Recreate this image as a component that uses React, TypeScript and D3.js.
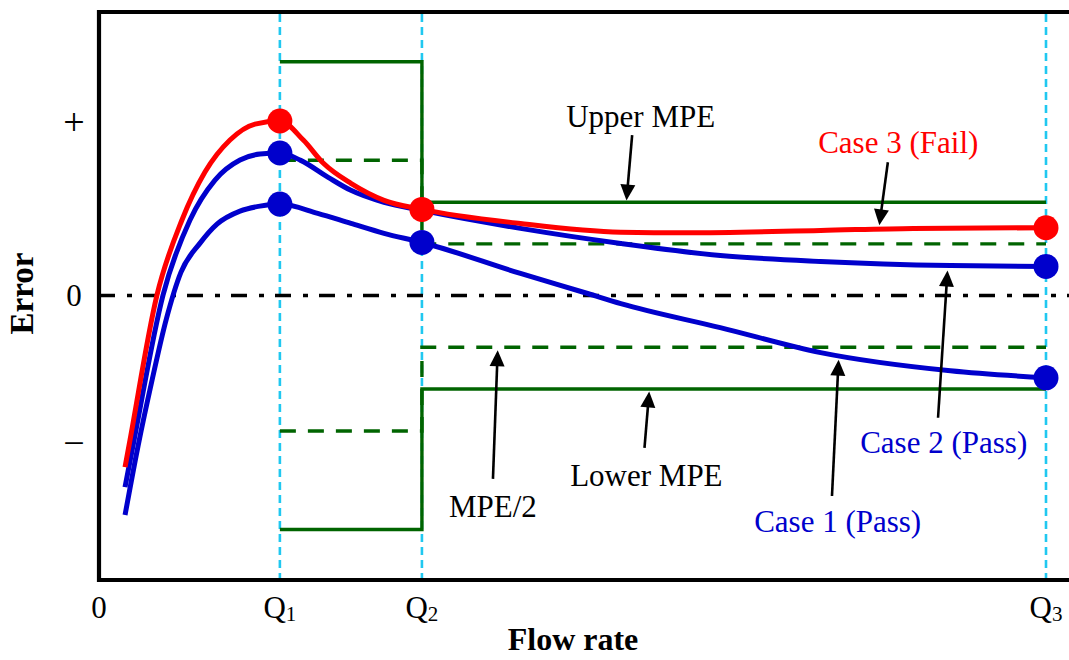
import React from 'react';
import * as d3 from 'd3';

const W = 1069;
const H = 660;

// flow-rate marks (Q3 = 100)
const Q1 = 19.1;
const Q2 = 34.1;
const Q3 = 100;

const xTicks = [
  { base: '0', sub: '', q: 0 },
  { base: 'Q', sub: '1', q: Q1 },
  { base: 'Q', sub: '2', q: Q2 },
  { base: 'Q', sub: '3', q: Q3 },
];
const yTicks = [
  { label: '+', v: 10 },
  { label: '0', v: 0 },
  { label: '\u2212', v: -8.7 },
];

// MPE limits: [Q1..Q2, Q2..Q3]
const mpe = [13.65, 5.45];
const halfMpe = [7.9, 3.02];

// error curves [flow, error]
const case1: [number, number][] = [
  [2.75, -12.81], [4.12, -8.79], [5.6, -4.94], [7.08, -1.43], [8.66, 1.37], [10.67, 3.06],
  [12.46, 4.17], [14.89, 4.93], [17.0, 5.22], [19.1, 5.34], [23.1, 4.8], [26.6, 4.21],
  [30.1, 3.63], [34.1, 3.1], [44.5, 1.29], [51.6, 0.12], [55.1, -0.47], [65.6, -1.87],
  [76.2, -3.33], [89.9, -4.39], [100, -4.8],
];
const case2: [number, number][] = [
  [2.75, -11.18], [3.7, -8.44], [6.76, 0.03], [9.61, 4.41], [12.25, 6.74], [14.89, 7.91],
  [17.0, 8.26], [19.1, 8.32], [21.3, 7.89], [24.2, 6.9], [26.6, 6.14], [30.1, 5.44],
  [34.1, 4.97], [44.5, 3.92], [55.1, 3.04], [65.6, 2.34], [76.2, 1.99], [89.9, 1.75],
  [100, 1.7],
];
const case3: [number, number][] = [
  [2.75, -10.01], [3.27, -8.44], [6.12, 0.03], [8.76, 4.41], [11.19, 7.21], [13.83, 9.08],
  [16.47, 10.01], [19.1, 10.19], [21.6, 9.06], [23.7, 7.72], [26.6, 6.55], [30.1, 5.56],
  [34.1, 5.03], [44.5, 4.21], [55.1, 3.7], [62.1, 3.66], [76.2, 3.8], [86.0, 3.92],
  [100, 3.96],
];

const case1Dots = [Q1, Q2, Q3];
const case2Dots = [Q1, Q3];
const case3Dots = [Q1, Q2, Q3];

const labels = [
  { text: 'Upper MPE', q: 57.2, v: 9.84, color: '#000' },
  { text: 'Case 3 (Fail)', q: 84.4, v: 8.32, color: '#ff0000' },
  { text: 'Case 2 (Pass)', q: 89.2, v: -9.19, color: '#0000cc' },
  { text: 'Case 1 (Pass)', q: 78.0, v: -13.8, color: '#0000cc' },
  { text: 'Lower MPE', q: 57.8, v: -11.1, color: '#000' },
  { text: 'MPE/2', q: 41.6, v: -12.9, color: '#000' },
];

const arrows = [
  { from: [56.3, 9.36], to: [55.7, 5.55] },
  { from: [83.3, 7.78], to: [82.4, 4.1] },
  { from: [88.6, -7.13], to: [89.6, 1.46] },
  { from: [77.4, -11.7], to: [78.1, -3.74] },
  { from: [57.6, -8.89], to: [58.1, -5.6] },
  { from: [41.6, -10.7], to: [42.1, -3.19] },
];

const FONT = '"Liberation Serif", "Times New Roman", serif';
const GREEN = '#006400';
const CYAN = '#20c8f0';
const BLUE = '#0000cc';
const RED = '#ff0000';

export default function App() {
  const left = 99, top = 12, bottom = 580;
  const x = d3.scaleLinear().domain([0, 100]).range([left, 1046]);
  const y = d3.scaleLinear().domain([-16.6, 16.55]).range([bottom, top]);

  const curve = d3.line<[number, number]>()
    .x(d => x(d[0]))
    .y(d => y(d[1]))
    .curve(d3.curveMonotoneX);

  const valueAt = (data: [number, number][], q: number) => data.find(d => d[0] === q)![1];

  const stepPath = (lv: number[], sign: number) => {
    const p = d3.path();
    p.moveTo(x(Q1), y(sign * lv[0]));
    p.lineTo(x(Q2), y(sign * lv[0]));
    p.lineTo(x(Q2), y(sign * lv[1]));
    p.lineTo(x(Q3), y(sign * lv[1]));
    return p.toString();
  };

  const arrowEls = arrows.map((a, i) => {
    const x0 = x(a.from[0]), y0 = y(a.from[1]);
    const x1 = x(a.to[0]), y1 = y(a.to[1]);
    const len = Math.hypot(x1 - x0, y1 - y0);
    const ux = (x1 - x0) / len, uy = (y1 - y0) / len;
    const hl = 16, hw = 7.5;
    const bx = x1 - ux * hl, by = y1 - uy * hl;
    const pts = [
      [x1, y1],
      [bx - uy * hw, by + ux * hw],
      [bx + uy * hw, by - ux * hw],
    ].map(p => p.join(',')).join(' ');
    return (
      <g key={i}>
        <line x1={x0} y1={y0} x2={bx + ux * 2} y2={by + uy * 2} stroke="#000" strokeWidth={2.6} />
        <polygon points={pts} fill="#000" />
      </g>
    );
  });

  return (
    <svg width={W} height={H} style={{ position: 'absolute', left: 0, top: 0, background: '#fff' }}
      fontFamily={FONT}>
      {/* flow-rate guides */}
      {[Q1, Q2, Q3].map(q => (
        <line key={q} x1={x(q)} x2={x(q)} y1={top + 2} y2={bottom - 2}
          stroke={CYAN} strokeWidth={2.6} strokeDasharray="8,5" />
      ))}
      {/* zero line */}
      <line x1={left} x2={W} y1={y(0)} y2={y(0)} stroke="#000" strokeWidth={3.6}
        strokeDasharray="16,12,5,11" />
      {/* MPE limits */}
      <path d={stepPath(halfMpe, 1)} fill="none" stroke={GREEN} strokeWidth={3.4} strokeDasharray="16,12" />
      <path d={stepPath(halfMpe, -1)} fill="none" stroke={GREEN} strokeWidth={3.4} strokeDasharray="16,12" />
      <path d={stepPath(mpe, 1)} fill="none" stroke={GREEN} strokeWidth={3.4} />
      <path d={stepPath(mpe, -1)} fill="none" stroke={GREEN} strokeWidth={3.4} />
      {/* curves */}
      <path d={curve(case1)!} fill="none" stroke={BLUE} strokeWidth={5} />
      <path d={curve(case2)!} fill="none" stroke={BLUE} strokeWidth={5} />
      <path d={curve(case3)!} fill="none" stroke={RED} strokeWidth={5} />
      {case1Dots.map(q => <circle key={'a' + q} cx={x(q)} cy={y(valueAt(case1, q))} r={12.5} fill={BLUE} />)}
      {case2Dots.map(q => <circle key={'b' + q} cx={x(q)} cy={y(valueAt(case2, q))} r={12.5} fill={BLUE} />)}
      {case3Dots.map(q => <circle key={'c' + q} cx={x(q)} cy={y(valueAt(case3, q))} r={12.5} fill={RED} />)}
      {/* frame */}
      <path d={`M${W + 5},${top}H${left}V${bottom}H${W + 5}`} fill="none" stroke="#000" strokeWidth={4.2} />
      {/* ticks */}
      {yTicks.map(t => (
        <text key={t.label} x={74} y={y(t.v) + (t.label === '0' ? 10 : 11)} textAnchor="middle"
          fontSize={t.label === '0' ? 31 : 38}>
          {t.label}
        </text>
      ))}
      {xTicks.map(t => (
        <text key={t.q} x={x(t.q)} y={618} textAnchor="middle" fontSize={31}>
          {t.base}
          {t.sub && <tspan fontSize={21} dy={3}>{t.sub}</tspan>}
        </text>
      ))}
      <text x={573} y={650} textAnchor="middle" fontSize={32} fontWeight="bold">Flow rate</text>
      <text transform={`translate(33,${y(0) - 2}) rotate(-90)`} textAnchor="middle" fontSize={33}
        fontWeight="bold">Error</text>
      {/* annotations */}
      {arrowEls}
      {labels.map(l => (
        <text key={l.text} x={x(l.q)} y={y(l.v)} textAnchor="middle" fontSize={31} fill={l.color}>
          {l.text}
        </text>
      ))}
    </svg>
  );
}
